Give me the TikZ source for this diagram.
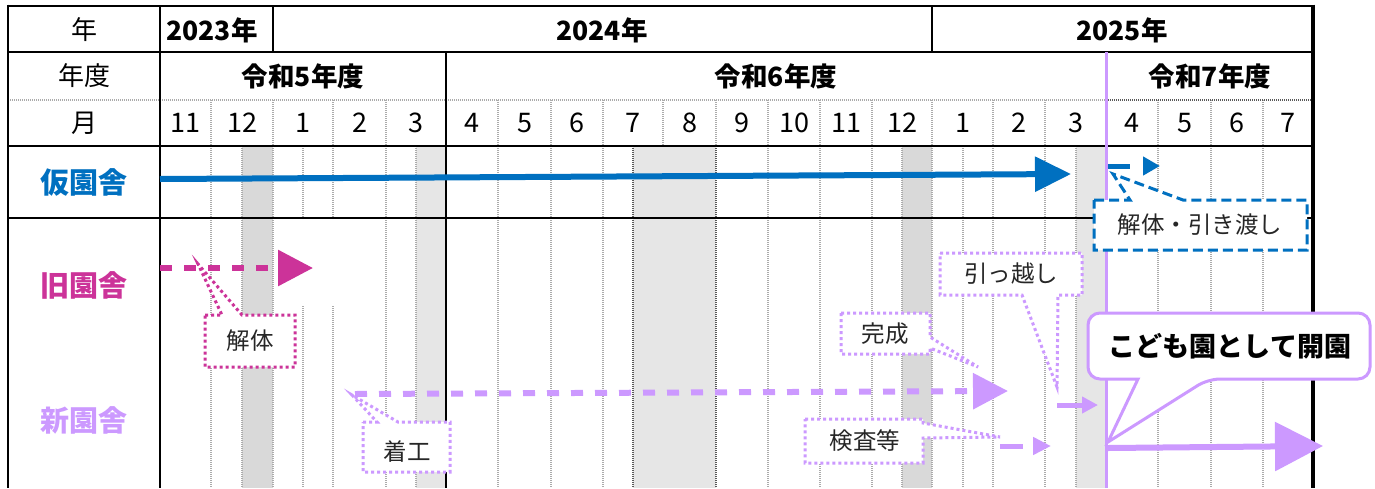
\documentclass[tikz,border=0pt]{standalone}
\usepackage{fontspec}
\setmainfont{Noto Sans CJK JP}
\usetikzlibrary{arrows.meta}
\definecolor{cblue}{HTML}{0070C0}
\definecolor{cmag}{HTML}{CC3399}
\definecolor{cpur}{HTML}{CC99FF}
\definecolor{shadeA}{HTML}{D9D9D9}
\definecolor{shadeB}{HTML}{E6E6E6}
\definecolor{gridg}{HTML}{ABABAB}
\definecolor{ctext}{HTML}{262626}
\begin{document}
\begin{tikzpicture}[x=1pt,y=-1pt,
  thickline/.style={line width=2.7pt,black},
  gridl/.style={gridg,line width=1.2pt,dash pattern=on 1pt off 1pt},
  gridd/.style={black!65,line width=1.2pt,dash pattern=on 1pt off 1pt},
  hdr/.style={font=\fontsize{26}{26}\selectfont,inner sep=0pt},
  hdrb/.style={font=\fontsize{26.5}{26.5}\selectfont\bfseries,inner sep=0pt},
  mon/.style={font=\fontsize{27}{27}\selectfont,inner sep=0pt},
  rowl/.style={font=\fontsize{29}{29}\selectfont\bfseries,inner sep=0pt},
  cltxt/.style={font=\fontsize{23.5}{23.5}\selectfont,text=ctext,inner sep=0pt},
  bigtxt/.style={font=\fontsize{27}{27}\selectfont\bfseries,text=black,inner sep=0pt},
  dotbox/.style={draw=#1,line width=3pt,dash pattern=on 3pt off 3pt,fill=white},
  dashbox/.style={draw=cblue,line width=3pt,dash pattern=on 10pt off 5pt,fill=white},
]
\useasboundingbox (0,0) rectangle (1375,488);
\fill[white] (0,0) rectangle (1375,488);

% shading in body
\fill[shadeA] (242,146) rectangle (273,488);
\fill[shadeB] (416,146) rectangle (446,488);
\fill[shadeB] (633,146) rectangle (716,488);
\fill[shadeA] (902,146) rectangle (932,488);
\fill[shadeB] (1076,146) rectangle (1106,488);

% body grid
\foreach \x in {211,242,273,303,333,386,416,498,551,603,768,820,872,902,932,963,993,1045,1076,1158,1211,1263}
  \draw[gridl] (\x,146) -- (\x,488);
\foreach \x in {633,716}
  \draw[gridd] (\x,146) -- (\x,488);
\fill[white] (274.5,220) rectangle (384.5,305);

% month row grid
\foreach \x in {211,273,333,386,498,551,603,663,716,768,820,872,932,993,1045,1158,1211,1263}
  \draw[gridl] (\x,100) -- (\x,146);
\draw[gridl] (8,100) -- (1106,100);
\draw[gridd] (1106,100) -- (1313,100);

% thick lines
\draw[thickline] (8,6) -- (1313,6);
\draw[thickline] (8,52) -- (1313,52);
\draw[thickline] (8,146) -- (1313,146);
\draw[thickline] (8,218) -- (1313,218);
\draw[thickline] (8,4.65) -- (8,488);
\draw[thickline] (160,6) -- (160,488);
\draw[thickline] (273,6) -- (273,52);
\draw[thickline] (932,6) -- (932,52);
\draw[thickline] (446,52) -- (446,488);
\draw[line width=3.5pt,black] (1313,4.65) -- (1313,488);
\draw[cpur,line width=3pt] (1106,52) -- (1106,488);

% header texts
\node[hdr] (hY) at (84,30) {年};
\node[hdr] (hF) at (84,76) {年度};
\node[hdr] (hM) at (84,123) {月};
\node[hdrb] (y23) at (212,30) {2023年};
\node[hdrb] (y24) at (602,30) {2024年};
\node[hdrb] (y25) at (1122,30) {2025年};
\node[hdrb] (f5) at (303,76) {令和5年度};
\node[hdrb] (f6) at (776,76) {令和6年度};
\node[hdrb] (f7) at (1210,76) {令和7年度};
\foreach \a/\b/\t [count=\i] in {160/211/11,211/273/12,273/333/1,333/386/2,386/446/3,446/498/4,498/551/5,551/603/6,603/663/7,663/716/8,716/768/9,768/820/10,820/872/11,872/932/12,932/993/1,993/1045/2,1045/1106/3,1106/1158/4,1158/1211/5,1211/1263/6,1263/1313/7}
  \node[mon] (m\i) at ({(\a+\b)/2},123) {\t};

% row labels
\node[rowl,text=cblue] (rKari) at (84,182) {仮園舎};
\node[rowl,text=cmag] (rKyu) at (84,285) {旧園舎};
\node[rowl,text=cpur] (rShin) at (84,420) {新園舎};

% arrows
\coordinate (kS) at (160,179);
\coordinate (kE) at (1071,174);
\draw[cblue,line width=6pt,-{Triangle[length=36pt,width=34pt]}] (kS) -- (kE);
\coordinate (kS2) at (1108,166);
\coordinate (kE2) at (1160,166);
\draw[cblue,line width=5pt,dash pattern=on 22pt off 13pt,-{Triangle[length=17pt,width=18pt]}] (kS2) -- (kE2);

\coordinate (qS) at (160,268);
\coordinate (qE) at (313,268);
\draw[cmag,line width=6pt,dash pattern=on 12pt off 12pt,-{Triangle[length=35pt,width=35pt]}] (qS) -- (qE);

\coordinate (nS) at (355,394);
\coordinate (nE) at (1008,391);
\draw[cpur,line width=6pt,dash pattern=on 12pt off 12pt,-{Triangle[length=35pt,width=35pt]}] (nS) -- (nE);

\coordinate (iS) at (1000,446);
\coordinate (iE) at (1051,446);
\draw[cpur,line width=5pt,dash pattern=on 23pt off 10pt,-{Triangle[length=18pt,width=17pt]}] (iS) -- (iE);

\coordinate (hS) at (1057,405);
\coordinate (hE) at (1098,405);
\draw[cpur,line width=5pt,-{Triangle[length=16pt,width=16pt]}] (hS) -- (hE);

\coordinate (oS) at (1108,448);
\coordinate (oE) at (1323,446);
\draw[cpur,line width=6pt,-{Triangle[length=48pt,width=48pt]}] (oS) -- (oE);

% callouts
\coordinate (pKaitai) at (198,264);
\draw[dotbox=cmag] (205,315) -- (222,315) -- (pKaitai) -- (242,315) -- (295,315) -- (295,367) -- (205,367) -- cycle;
\node[cltxt] (tKaitai) at (250,341) {解体};

\coordinate (pChako) at (352,395);
\draw[dotbox=cpur] (363,422) -- (377,422) -- (pChako) -- (398,422) -- (450,422) -- (450,472) -- (363,472) -- cycle;
\node[cltxt] (tChako) at (407,452) {着工};

\coordinate (pKansei) at (978,367);
\draw[dotbox=cpur] (841,313) -- (930,313) -- (930,337) -- (pKansei) -- (930,348) -- (930,354) -- (841,354) -- cycle;
\node[cltxt] (tKansei) at (885,334) {完成};

\coordinate (pKensa) at (1000,437);
\draw[dotbox=cpur] (805,419) -- (923,419) -- (923,423) -- (pKensa) -- (923,438) -- (923,463) -- (805,463) -- cycle;
\node[cltxt] (tKensa) at (865,441) {検査等};

\coordinate (pHikko) at (1057,387);
\draw[dotbox=cpur] (940,253) -- (1082,253) -- (1082,295) -- (1058,295) -- (pHikko) -- (1022,295) -- (940,295) -- cycle;
\node[cltxt] (tHikko) at (1011,274) {引っ越し};

\coordinate (pHiki) at (1113,174);
\draw[dashbox] (1094,200) -- (1130,200) -- (pHiki) -- (1183,200) -- (1307,200) -- (1307,250) -- (1094,250) -- cycle;
\node[cltxt] (tHiki) at (1200,225) {解体・引き渡し};

\coordinate (pKaien) at (1108,442);
\draw[cpur,line width=3pt,fill=white] (1138,379) [rounded corners=12pt] -- (1088,379) -- (1088,313) -- (1370,313) -- (1370,379) -- (1208,379) [sharp corners] -- (pKaien) -- cycle;
\node[bigtxt] (tKaien) at (1230,346) {こども園として開園};
\end{tikzpicture}
\end{document}
